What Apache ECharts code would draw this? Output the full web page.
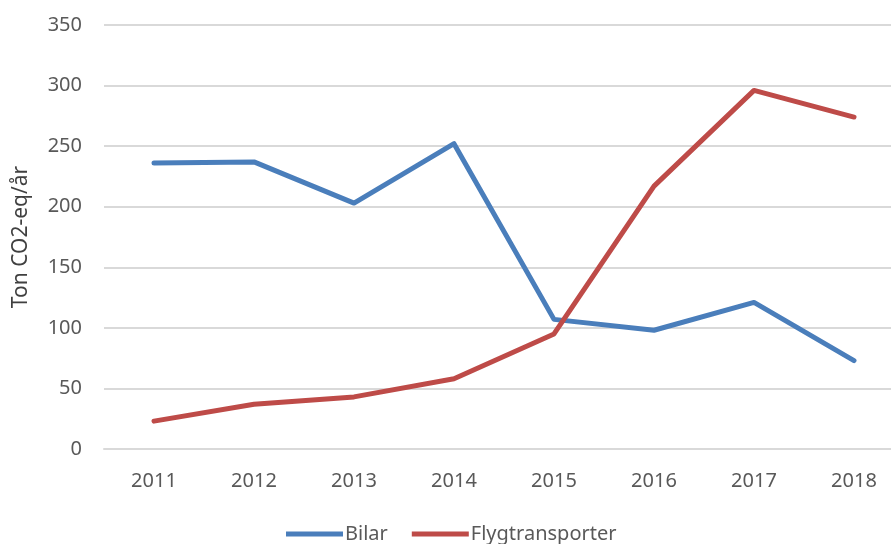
<!DOCTYPE html>
<html>
<head>
<meta charset="utf-8">
<script src="https://cdn.jsdelivr.net/npm/echarts@6/dist/echarts.min.js"></script>
<style>
  html, body { margin: 0; padding: 0; background: #fff; }
  #chart { width: 891px; height: 544px; }
</style>
</head>
<body>
<div id="chart"></div>
<script>
var years = ['2011', '2012', '2013', '2014', '2015', '2016', '2017', '2018'];
var bilar = [236, 237, 203, 252, 107, 98, 121, 73];
var flyg = [23, 37, 43, 58, 95, 217, 296, 274];
var yTicks = [0, 50, 100, 150, 200, 250, 300, 350];

var myChart = echarts.init(document.getElementById('chart'));

var font = 'Noto Sans';
var option = {
    animation: false,
    grid: {
        left: 104,
        width: 800,
        top: 25,
        bottom: 95,
        outerBoundsMode: 'none'
    },
    legend: {
        data: ['Bilar', 'Flygtransporter'],
        left: 281,
        top: 519,
        icon: 'rect',
        itemWidth: 57,
        itemHeight: 5,
        itemGap: 24,
        textStyle: { fontFamily: font, fontSize: 20, color: '#595959', padding: [0, 0, 0, -3] }
    },
    xAxis: {
        type: 'category',
        data: years,
        boundaryGap: true,
        axisLine: { show: true, lineStyle: { color: '#d9d9d9', width: 2 } },
        axisTick: { show: false },
        axisLabel: { fontFamily: font, fontSize: 20, color: '#595959', margin: 22 }
    },
    yAxis: {
        type: 'value',
        min: yTicks[0],
        max: yTicks[yTicks.length - 1],
        interval: 50,
        name: 'Ton CO2-eq/år',
        nameLocation: 'middle',
        nameGap: 72,
        nameTextStyle: { fontFamily: font, fontSize: 21, color: '#404040' },
        axisLine: { show: false },
        axisTick: { show: false },
        axisLabel: { fontFamily: font, fontSize: 20, color: '#595959', margin: 22 },
        splitLine: { lineStyle: { color: '#d9d9d9', width: 2 } }
    },
    series: [
        {
            name: 'Bilar',
            type: 'line',
            data: bilar,
            symbol: 'none',
            lineStyle: { color: '#4a7ebb', width: 5, cap: 'round', join: 'round' },
            itemStyle: { color: '#4a7ebb' }
        },
        {
            name: 'Flygtransporter',
            type: 'line',
            data: flyg,
            symbol: 'none',
            lineStyle: { color: '#be4b48', width: 5, cap: 'round', join: 'round' },
            itemStyle: { color: '#be4b48' }
        }
    ]
};

myChart.setOption(option);
</script>
</body>
</html>
